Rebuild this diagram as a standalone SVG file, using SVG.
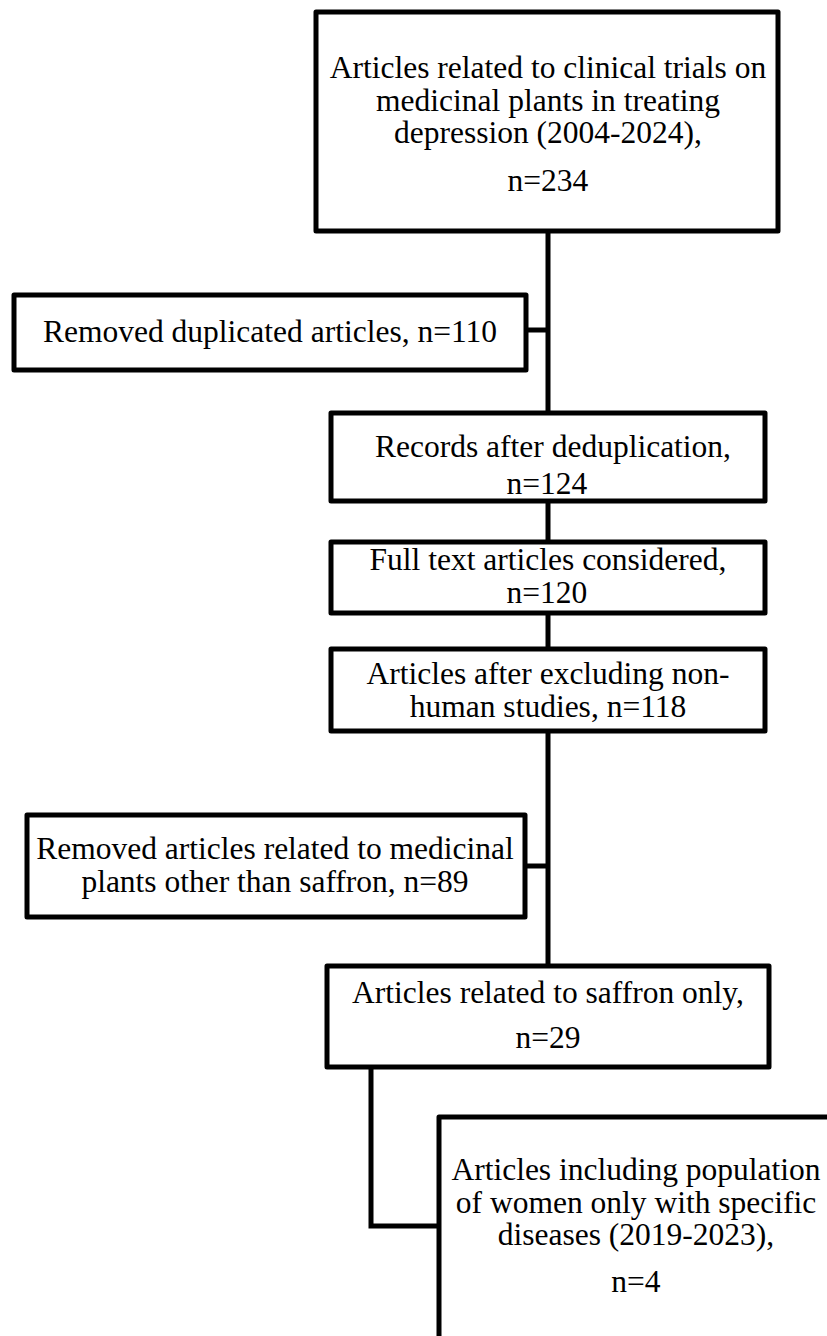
<svg xmlns="http://www.w3.org/2000/svg" width="827" height="1336" viewBox="0 0 827 1336">
<style>
.box{fill:#fff;stroke:#000;stroke-width:5;stroke-linejoin:round}
.t{font-family:"Liberation Serif","Times New Roman",serif;font-size:31.5px;fill:#000;text-anchor:middle}
.c{fill:none;stroke:#000;stroke-width:5}
</style>
<rect width="827" height="1336" fill="#fff"/>
<g id="connectors">
<path class="c" d="M548 231V413"/>
<path class="c" d="M526 330H548"/>
<path class="c" d="M548 501V542"/>
<path class="c" d="M548 613V649"/>
<path class="c" d="M548 731V966"/>
<path class="c" d="M525 866H548"/>
<path class="c" d="M371 1067V1226H439"/>
</g>
<g id="n1">
<rect class="box" x="316" y="12" width="462" height="219"/>
<text class="t" x="548" y="78">Articles related to clinical trials on</text>
<text class="t" x="548" y="111">medicinal plants in treating</text>
<text class="t" x="548" y="143">depression (2004-2024),</text>
<text class="t" x="548" y="191">n=234</text>
</g>
<g id="n2">
<rect class="box" x="14" y="295" width="512" height="75"/>
<text class="t" x="270" y="342">Removed duplicated articles, n=110</text>
</g>
<g id="n3">
<rect class="box" x="331" y="413" width="434" height="88"/>
<text class="t" x="553" y="457">Records after deduplication,</text>
<text class="t" x="547" y="494">n=124</text>
</g>
<g id="n4">
<rect class="box" x="331" y="542" width="434" height="71"/>
<text class="t" x="548" y="570">Full text articles considered,</text>
<text class="t" x="547" y="603">n=120</text>
</g>
<g id="n5">
<rect class="box" x="331" y="649" width="434" height="82"/>
<text class="t" x="548" y="684">Articles after excluding non-</text>
<text class="t" x="548" y="717">human studies, n=118</text>
</g>
<g id="n6">
<rect class="box" x="27" y="815" width="498" height="102"/>
<text class="t" x="275" y="859">Removed articles related to medicinal</text>
<text class="t" x="275" y="892">plants other than saffron, n=89</text>
</g>
<g id="n7">
<rect class="box" x="327" y="966" width="442" height="101"/>
<text class="t" x="548" y="1003">Articles related to saffron only,</text>
<text class="t" x="548" y="1048">n=29</text>
</g>
<g id="n8">
<rect class="box" x="439" y="1117" width="400" height="300"/>
<text class="t" x="636" y="1180">Articles including population</text>
<text class="t" x="636" y="1213">of women only with specific</text>
<text class="t" x="636" y="1245">diseases (2019-2023),</text>
<text class="t" x="636" y="1292">n=4</text>
</g>
</svg>
